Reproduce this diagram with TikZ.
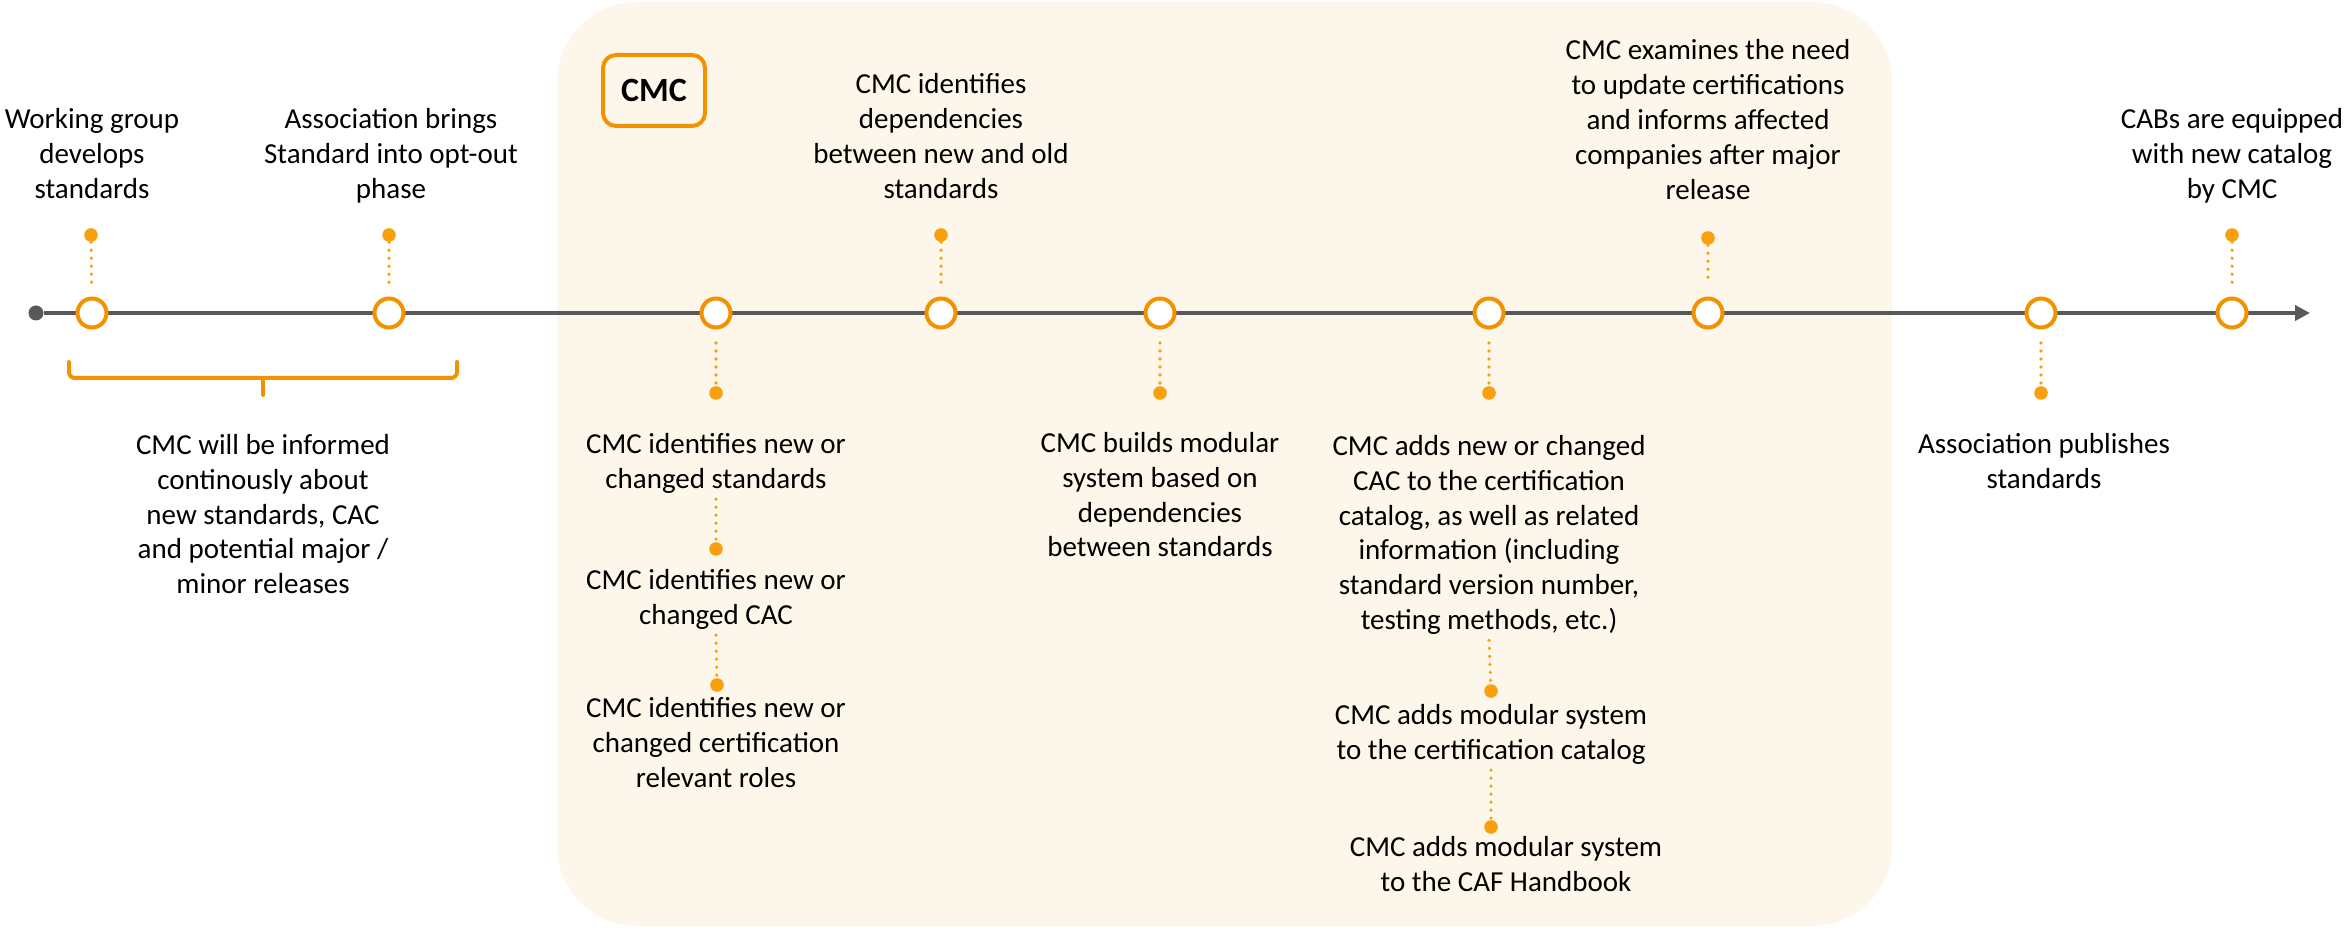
\documentclass[tikz,border=0pt]{standalone}
\usepackage{fontspec}
\setmainfont{Carlito}
\usetikzlibrary{arrows.meta}
\definecolor{tlgray}{HTML}{58595B}
\definecolor{orng}{HTML}{F39200}
\definecolor{dotor}{HTML}{F8A00E}
\definecolor{cream}{HTML}{FDF7EB}
\begin{document}
\begin{tikzpicture}[x=0.5pt,y=-0.5pt,
  lbl/.style={align=center, inner sep=0pt, font=\fontsize{14.5pt}{17.4pt}\selectfont,
    execute at begin node=\strut, execute at end node=\strut},
  toplbl/.style={lbl, anchor=south},
  botlbl/.style={lbl, anchor=north},
  ev/.style={circle, draw=orng, fill=white, line width=2pt, inner sep=0pt, minimum size=14.5pt},
  pin/.style={circle, fill=dotor, inner sep=0pt, minimum size=6.8pt},
  dotline/.style={draw=dotor, line width=1.8pt, dash pattern=on 0pt off 4pt, line cap=round},
  cmcbox/.style={draw=orng, fill=cream, line width=2pt, rounded corners=6.5pt,
    minimum width=51pt, minimum height=35.5pt, inner sep=0pt,
    font=\fontsize{17pt}{20pt}\selectfont\bfseries}
]
\useasboundingbox (0,0) rectangle (2346,930);
% CMC background
\fill[cream, rounded corners=40pt] (557,2) rectangle (1892,926);
\node[cmcbox] (cmc) at (654,90.5) {CMC};

% timeline
\node[circle, fill=tlgray, inner sep=0pt, minimum size=7.5pt] (start) at (36,313) {};
\coordinate (end) at (2310,313);
\draw[tlgray, line width=2pt, -{Triangle[length=7.5pt,width=7.5pt]}] (start) -- (end);

% events
\node[ev] (c1) at (92,313) {};
\node[ev] (c2) at (389,313) {};
\node[ev] (c3) at (716,313) {};
\node[ev] (c4) at (941,313) {};
\node[ev] (c5) at (1160,313) {};
\node[ev] (c6) at (1489,313) {};
\node[ev] (c7) at (1708,313) {};
\node[ev] (c8) at (2041,313) {};
\node[ev] (c9) at (2232,313) {};

% pins above
\node[pin] (p1) at (91,235) {};
\node[pin] (p2) at (389,235) {};
\node[pin] (p4) at (941,235) {};
\node[pin] (p7) at (1708,238) {};
\node[pin] (p9) at (2232,235) {};
\foreach \i in {1,2,4,7,9} \draw[dotline, shorten >=6.75pt] (p\i) -- (c\i);

% pins below
\node[pin] (q3) at (716,393) {};
\node[pin] (q5) at (1160,393) {};
\node[pin] (q6) at (1489,393) {};
\node[pin] (q8) at (2041,393) {};
\foreach \i in {3,5,6,8} \draw[dotline, shorten <=6.75pt] (c\i) -- (q\i);

% top labels
\node[toplbl] (t1) at (92,209) {Working group\\develops\\standards};
\node[toplbl] (t2) at (391,209) {Association brings\\Standard into opt-out\\phase};
\node[toplbl] (t4) at (941,209) {CMC identifies\\dependencies\\between new and old\\standards};
\node[toplbl] (t7) at (1708,210) {CMC examines the need\\to update certifications\\and informs affected\\companies after major\\release};
\node[toplbl] (t9) at (2232,209) {CABs are equipped\\with new catalog\\by CMC};

% bracket
\draw[orng, line width=2pt, line cap=round, rounded corners=3pt] (69,362) |- (263,378) -| (457,362);
\coordinate (brk) at (263,378);
\draw[orng, line width=2pt, line cap=round] (brk) -- ++(0,17);
\node[botlbl] (b0) at (263,434) {CMC will be informed\\continously about\\new standards, CAC\\and potential major /\\minor releases};

% bottom labels
\node[botlbl] (l3a) at (716,433) {CMC identifies new or\\changed standards};
\node[pin] (q3b) at (716,549) {};
\node[botlbl] (l3b) at (716,569) {CMC identifies new or\\changed CAC};
\node[pin] (q3c) at (717,685) {};
\node[botlbl] (l3c) at (716,697) {CMC identifies new or\\changed certification\\relevant roles};
\draw[dotline] (l3a.south) -- (q3b);
\draw[dotline] (l3b.south) -- (q3c);

\node[botlbl] (l5) at (1160,432) {CMC builds modular\\system based on\\dependencies\\between standards};

\node[botlbl] (l6a) at (1489,435) {CMC adds new or changed\\CAC to the certification\\catalog, as well as related\\information (including\\standard version number,\\testing methods, etc.)};
\node[pin] (q6b) at (1491,691) {};
\node[botlbl] (l6b) at (1491,704) {CMC adds modular system\\to the certification catalog};
\node[pin] (q6c) at (1491,827) {};
\node[botlbl] (l6c) at (1506,836) {CMC adds modular system\\to the CAF Handbook};
\draw[dotline] (l6a.south) -- (q6b);
\draw[dotline] (l6b.south) -- (q6c);

\node[botlbl] (l8) at (2044,433) {Association publishes\\standards};
\end{tikzpicture}
\end{document}
